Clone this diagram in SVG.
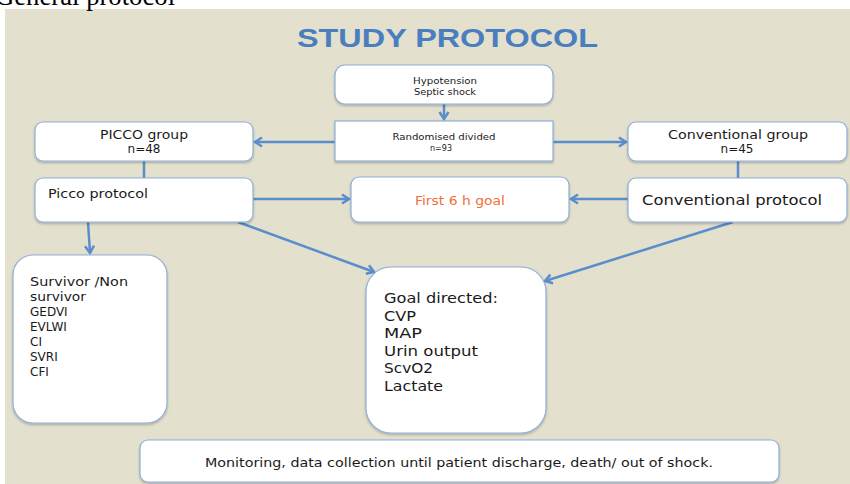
<svg xmlns="http://www.w3.org/2000/svg" width="850" height="484" viewBox="0 0 850 484">
  <defs>
    <marker id="arr" markerUnits="userSpaceOnUse" markerWidth="12" markerHeight="12" refX="8" refY="5" orient="auto" overflow="visible">
      <path d="M1,0.5 L8,5 L1,9.5" fill="none" stroke="#5A8DCB" stroke-width="2.5" stroke-linejoin="miter"/>
    </marker>
    <filter id="sh" x="-5%" y="-5%" width="110%" height="115%">
      <feDropShadow dx="0" dy="1.5" stdDeviation="1" flood-color="#000" flood-opacity="0.25"/>
    </filter>
    <style>
      .box { fill: #FFFFFF; stroke: #8EB0DA; stroke-width: 1.2; filter: url(#sh); }
      .t { font-family: "DejaVu Sans", "Liberation Sans", sans-serif; fill: #1A1A1A; }
      .c { text-anchor: middle; }
      .con { fill: none; stroke: #5A8DCB; stroke-width: 2.5; }
    </style>
  </defs>

  <rect x="0" y="0" width="850" height="484" fill="#FFFFFF"/>
  <rect x="5" y="9" width="845" height="475" fill="#E3E0CE"/>
  <text x="-5" y="5" font-family="Liberation Serif, serif" font-size="26.7" fill="#000">General protocol</text>

  <text x="297" y="47" font-family="Liberation Sans, Arial, sans-serif" font-weight="bold" font-size="26.5" fill="#4A7EBF" textLength="301" lengthAdjust="spacingAndGlyphs">STUDY PROTOCOL</text>

  <g id="connectors">
    <line class="con" x1="444" y1="104" x2="444" y2="119" marker-end="url(#arr)"/>
    <line class="con" x1="335" y1="142" x2="255" y2="142" marker-end="url(#arr)"/>
    <line class="con" x1="553" y1="142" x2="626" y2="142" marker-end="url(#arr)"/>
    <line class="con" x1="144" y1="161" x2="144" y2="178"/>
    <line class="con" x1="738" y1="161" x2="738" y2="178"/>
    <line class="con" x1="253" y1="199" x2="349" y2="199" marker-end="url(#arr)"/>
    <line class="con" x1="628" y1="199" x2="571" y2="199" marker-end="url(#arr)"/>
    <line class="con" x1="88" y1="222" x2="90" y2="253" marker-end="url(#arr)"/>
    <line class="con" x1="238" y1="222" x2="374" y2="272" marker-end="url(#arr)"/>
    <line class="con" x1="733" y1="222" x2="545" y2="281" marker-end="url(#arr)"/>
  </g>

  <g id="hypotension">
    <rect class="box" x="335" y="65" width="218" height="39" rx="10"/>
    <text class="t c" x="445" y="84" font-size="9.3" textLength="64" lengthAdjust="spacingAndGlyphs">Hypotension</text>
    <text class="t c" x="445" y="95" font-size="9.3" textLength="62" lengthAdjust="spacingAndGlyphs">Septic shock</text>
  </g>

  <g id="randomised">
    <rect class="box" x="335" y="121" width="218" height="40" rx="0"/>
    <text class="t c" x="444" y="140" font-size="8.5" textLength="103" lengthAdjust="spacingAndGlyphs">Randomised divided</text>
    <text class="t c" x="441" y="151" font-size="8">n=93</text>
  </g>

  <g id="picco-group">
    <rect class="box" x="35" y="122" width="218" height="39" rx="8"/>
    <text class="t c" x="144" y="139" font-size="12" textLength="88" lengthAdjust="spacingAndGlyphs">PICCO group</text>
    <text class="t c" x="144" y="153" font-size="12">n=48</text>
  </g>

  <g id="conventional-group">
    <rect class="box" x="628" y="122" width="219" height="39" rx="8"/>
    <text class="t c" x="738" y="139" font-size="12" textLength="140" lengthAdjust="spacingAndGlyphs">Conventional group</text>
    <text class="t c" x="737" y="153" font-size="12">n=45</text>
  </g>

  <g id="picco-protocol">
    <rect class="box" x="35" y="178" width="218" height="44" rx="8"/>
    <text class="t" x="48" y="198" font-size="12" textLength="100" lengthAdjust="spacingAndGlyphs">Picco protocol</text>
  </g>

  <g id="first-6h-goal">
    <rect class="box" x="351" y="177" width="218" height="45" rx="8"/>
    <text class="t c" x="460" y="205" font-size="12" style="fill:#F0703A" textLength="90" lengthAdjust="spacingAndGlyphs">First 6 h goal</text>
  </g>

  <g id="conventional-protocol">
    <rect class="box" x="628" y="178" width="219" height="44" rx="8"/>
    <text class="t" x="642" y="205" font-size="14.2" textLength="180" lengthAdjust="spacingAndGlyphs">Conventional protocol</text>
  </g>

  <g id="survivor">
    <rect class="box" x="13" y="255" width="154" height="168" rx="20"/>
    <text class="t" x="30" y="286" font-size="12.5" textLength="98" lengthAdjust="spacingAndGlyphs">Survivor /Non</text>
    <text class="t" x="30" y="301" font-size="12.5" textLength="56" lengthAdjust="spacingAndGlyphs">survivor</text>
    <text class="t" x="30" y="316" font-size="12">GEDVI</text>
    <text class="t" x="30" y="331" font-size="12">EVLWI</text>
    <text class="t" x="30" y="346" font-size="12">CI</text>
    <text class="t" x="30" y="361" font-size="12">SVRI</text>
    <text class="t" x="30" y="376" font-size="12">CFI</text>
  </g>

  <g id="goal-directed">
    <rect class="box" x="366" y="267" width="180" height="166" rx="25"/>
    <text class="t" x="384" y="303" font-size="14.4" textLength="114" lengthAdjust="spacingAndGlyphs">Goal directed:</text>
    <text class="t" x="384" y="320.5" font-size="14.4" textLength="32" lengthAdjust="spacingAndGlyphs">CVP</text>
    <text class="t" x="384" y="338" font-size="14.4" textLength="38" lengthAdjust="spacingAndGlyphs">MAP</text>
    <text class="t" x="384" y="355.5" font-size="14.4" textLength="94" lengthAdjust="spacingAndGlyphs">Urin output</text>
    <text class="t" x="384" y="373" font-size="14.4" textLength="49" lengthAdjust="spacingAndGlyphs">ScvO2</text>
    <text class="t" x="384" y="390.5" font-size="14.4" textLength="59" lengthAdjust="spacingAndGlyphs">Lactate</text>
  </g>

  <g id="monitoring">
    <rect class="box" x="140" y="440" width="639" height="42" rx="8"/>
    <text class="t c" x="459" y="467" font-size="12.5" textLength="508" lengthAdjust="spacingAndGlyphs">Monitoring, data collection until patient discharge, death/ out of shock.</text>
  </g>
</svg>
